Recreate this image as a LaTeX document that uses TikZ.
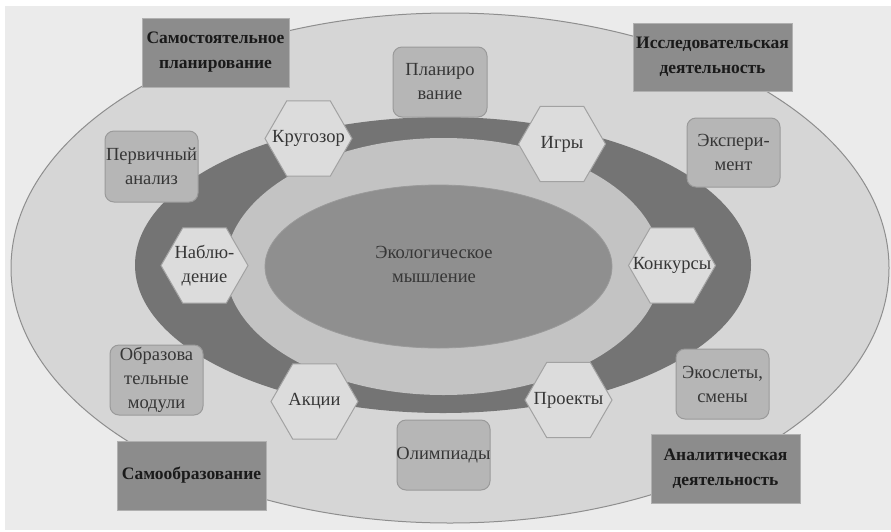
\documentclass[tikz,border=0pt]{standalone}
\usepackage{fontspec}
\setmainfont{Liberation Serif}
\usetikzlibrary{shapes.geometric}
\definecolor{bgc}{HTML}{EBEBEB}
\definecolor{outerc}{HTML}{D6D6D6}
\definecolor{outerd}{HTML}{8E8E8E}
\definecolor{ringc}{HTML}{747474}
\definecolor{innerc}{HTML}{C3C3C3}
\definecolor{corec}{HTML}{8F8F8F}
\definecolor{rboxc}{HTML}{B6B6B6}
\definecolor{rboxd}{HTML}{9A9A9A}
\definecolor{hexc}{HTML}{DCDCDC}
\definecolor{hexd}{HTML}{A2A2A2}
\definecolor{cornc}{HTML}{8C8C8C}
\definecolor{cornd}{HTML}{B0B0B0}
\definecolor{txtgray}{HTML}{363636}
\definecolor{txtdark}{HTML}{1A1A1A}
\tikzset{
  ell/.style={ellipse, inner sep=0pt},
  rbox/.style={rectangle, rounded corners=9pt, fill=rboxc, draw=rboxd, line width=1pt, inner sep=0pt},
  hexa/.style={regular polygon, regular polygon sides=6, minimum size=87pt, inner sep=0pt, fill=hexc, draw=hexd, line width=1pt},
  cbox/.style={rectangle, fill=cornc, draw=cornd, line width=1pt, inner sep=0pt},
  txt/.style={font=\fontsize{18.5}{24}\selectfont, text=txtgray, align=center, inner sep=0pt},
  btxt/.style={font=\bfseries\fontsize{17.5}{25}\selectfont, text=txtdark, align=center, inner sep=0pt}
}
\begin{document}
\begin{tikzpicture}[x=1pt,y=-1pt]
\useasboundingbox (0,0) rectangle (891,531);
\fill[white] (0,0) rectangle (891,531);
\fill[bgc] (5,6) rectangle (891,530);
% ellipses
\node[ell, fill=outerc, draw=outerd, line width=1pt, minimum width=878pt, minimum height=510pt] (outer) at (450,268) {};
\node[ell, fill=ringc, minimum width=616pt, minimum height=296pt] (ring) at (443,265) {};
\node[ell, fill=innerc, minimum width=436pt, minimum height=257pt] (inner) at (443.5,266.5) {};
\node[ell, fill=corec, draw=rboxd, line width=0.8pt, minimum width=347pt, minimum height=163pt] (core) at (438.5,266.5) {};
\node[txt] (core-t) at (434,264) {Экологическое\\мышление};
% rounded boxes
\node[rbox, minimum width=94pt, minimum height=70pt] (plan) at (440,82) {};
\node[txt] (plan-t) at (plan) {Планиро\\вание};
\node[rbox, minimum width=93pt, minimum height=71pt] (perv) at (151.5,166.5) {};
\node[txt] (perv-t) at (perv) {Первичный\\анализ};
\node[rbox, minimum width=93pt, minimum height=69pt] (exper) at (733.5,152.5) {};
\node[txt] (exper-t) at (exper) {Экспери-\\мент};
\node[rbox, minimum width=93pt, minimum height=70pt] (obraz) at (156.5,380) {};
\node[txt] (obraz-t) at (obraz) {Образова\\тельные\\модули};
\node[rbox, minimum width=93pt, minimum height=70pt] (olimp) at (443.5,455) {};
\node[txt] (olimp-t) at (olimp) {Олимпиады};
\node[rbox, minimum width=93pt, minimum height=70pt] (ekos) at (722.5,384) {};
\node[txt] (ekos-t) at (ekos) {Экослеты,\\смены};
% hexagons
\node[hexa] (krug) at (308.5,138.5) {};
\node[txt] (krug-t) at (krug) {Кругозор};
\node[hexa] (igry) at (562,144) {};
\node[txt] (igry-t) at (igry) {Игры};
\node[hexa] (nabl) at (204.5,265.5) {};
\node[txt] (nabl-t) at (nabl) {Наблю-\\дение};
\node[hexa] (konk) at (672,265.5) {};
\node[txt] (konk-t) at (konk) {Конкурсы};
\node[hexa] (akc) at (314.5,401.5) {};
\node[txt] (akc-t) at (akc) {Акции};
\node[hexa] (proj) at (568.5,400) {};
\node[txt] (proj-t) at (proj) {Проекты};
% corner boxes
\node[cbox, minimum width=147pt, minimum height=69pt] (samplan) at (215.5,52.5) {};
\node[btxt] (samplan-t) at (samplan) {Самостоятельное\\планирование};
\node[cbox, minimum width=159pt, minimum height=68pt] (issled) at (712.5,57) {};
\node[btxt] (issled-t) at (issled) {Исследовательская\\деятельность};
\node[cbox, minimum width=149pt, minimum height=69pt] (samobr) at (191.5,475.5) {};
\node[btxt] (samobr-t) at (samobr) {Самообразование};
\node[cbox, minimum width=149pt, minimum height=69pt] (analit) at (725.5,468.5) {};
\node[btxt] (analit-t) at (analit) {Аналитическая\\деятельность};
\end{tikzpicture}
\end{document}
